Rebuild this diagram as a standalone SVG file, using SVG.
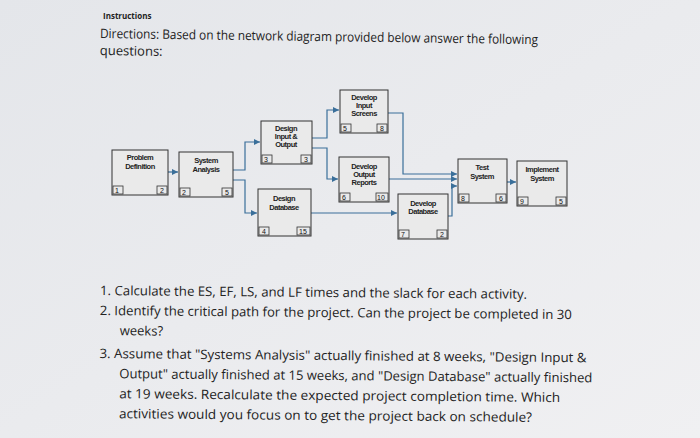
<svg xmlns="http://www.w3.org/2000/svg" width="700" height="438" viewBox="0 0 700 438">
<defs>
<linearGradient id="bg" x1="0" y1="0" x2="1" y2="1"><stop offset="0" stop-color="#e4e6ea"/><stop offset="1" stop-color="#f0f0f2"/></linearGradient>
<marker id="ar" markerWidth="6" markerHeight="6" refX="5" refY="3" orient="auto"><path d="M0,0.5 L5,3 L0,5.5z" fill="#3a6f9a"/></marker>
</defs>
<style>
.box{fill:#eaeaea;stroke:#333;stroke-width:1}
.nb{fill:none;stroke:#333;stroke-width:0.8}
.t{font-family:"Liberation Sans",Arial,sans-serif;font-size:7.5px;font-weight:bold;fill:#222;text-anchor:middle;letter-spacing:-0.5px}
.n{font-family:"Liberation Sans",Arial,sans-serif;font-size:7px;fill:#111}
.c path{fill:none;stroke:#3a6f9a;stroke-width:1.2;marker-end:url(#ar)}
.q{font-family:"Open Sans","Liberation Sans",sans-serif;font-size:13px;fill:#222}
</style>
<rect width="700" height="438" fill="url(#bg)"/>
<text x="103" y="19" font-family="Open Sans,Liberation Sans,sans-serif" font-size="8" font-weight="bold" fill="#222">Instructions</text>
<g transform="rotate(0.8 100 40)">
<text x="100" y="38" class="q" font-size="12" textLength="438" lengthAdjust="spacingAndGlyphs">Directions: Based on the network diagram provided below answer the following</text>
<text x="100" y="55" class="q" font-size="12">questions:</text>
</g>
<g class="c">
<path d="M168,172 H178"/>
<path d="M233,170 H245 V142 H260"/>
<path d="M233,180 H245 V213 H257"/>
<path d="M312,138 H327 V110 H339"/>
<path d="M312,148 H327 V179 H338"/>
<path d="M388,113 H403 V174 H457"/>
<path d="M389,179 H457"/>
<path d="M311,213 H397"/>
<path d="M448,216 H452 V186 H457"/>
<path d="M507,182 H516"/>
</g>
<g id="pd"><rect class="box" x="112" y="150" width="56" height="45"/><text class="t" x="140" y="160">Problem</text><text class="t" x="140" y="169">Definition</text><rect class="nb" x="113" y="186" width="10" height="8"/><text class="n" x="115" y="193">1</text><rect class="nb" x="157" y="186" width="10" height="8"/><text class="n" x="160" y="193">2</text></g>
<g id="sa"><rect class="box" x="179" y="152" width="54" height="45"/><text class="t" x="206" y="163">System</text><text class="t" x="206" y="172">Analysis</text><rect class="nb" x="180" y="188" width="10" height="8"/><text class="n" x="182" y="195">2</text><rect class="nb" x="222" y="188" width="10" height="8"/><text class="n" x="225" y="195">5</text></g>
<g id="dio"><rect class="box" x="261" y="121" width="51" height="43"/><text class="t" x="286" y="131">Design</text><text class="t" x="286" y="139">Input &amp;</text><text class="t" x="286" y="147">Output</text><rect class="nb" x="262" y="155" width="10" height="8"/><text class="n" x="264" y="162">3</text><rect class="nb" x="301" y="155" width="10" height="8"/><text class="n" x="304" y="162">3</text></g>
<g id="dd"><rect class="box" x="258" y="189" width="53" height="47"/><text class="t" x="284" y="201">Design</text><text class="t" x="284" y="210">Database</text><rect class="nb" x="259" y="227" width="10" height="8"/><text class="n" x="262" y="234">4</text><rect class="nb" x="297" y="227" width="13" height="8"/><text class="n" x="299" y="234">15</text></g>
<g id="dis"><rect class="box" x="340" y="90" width="48" height="43"/><text class="t" x="364" y="100">Develop</text><text class="t" x="364" y="108">Input</text><text class="t" x="364" y="116">Screens</text><rect class="nb" x="341" y="124" width="10" height="8"/><text class="n" x="343" y="131">5</text><rect class="nb" x="377" y="124" width="10" height="8"/><text class="n" x="380" y="131">8</text></g>
<g id="dor"><rect class="box" x="339" y="157" width="50" height="45"/><text class="t" x="364" y="169">Develop</text><text class="t" x="364" y="177">Output</text><text class="t" x="364" y="185">Reports</text><rect class="nb" x="340" y="193" width="10" height="8"/><text class="n" x="342" y="200">6</text><rect class="nb" x="376" y="193" width="12" height="8"/><text class="n" x="377" y="200">10</text></g>
<g id="ddb"><rect class="box" x="398" y="194" width="50" height="45"/><text class="t" x="423" y="206">Develop</text><text class="t" x="423" y="214">Database</text><rect class="nb" x="399" y="230" width="10" height="8"/><text class="n" x="401" y="237">7</text><rect class="nb" x="437" y="230" width="10" height="8"/><text class="n" x="440" y="237">2</text></g>
<g id="ts"><rect class="box" x="458" y="159" width="49" height="44"/><text class="t" x="482" y="170">Test</text><text class="t" x="482" y="179">System</text><rect class="nb" x="459" y="194" width="10" height="8"/><text class="n" x="461" y="201">8</text><rect class="nb" x="496" y="194" width="10" height="8"/><text class="n" x="499" y="201">6</text></g>
<g id="is"><rect class="box" x="517" y="161" width="50" height="45"/><text class="t" x="542" y="172">Implement</text><text class="t" x="542" y="181">System</text><rect class="nb" x="518" y="197" width="10" height="8"/><text class="n" x="520" y="204">9</text><rect class="nb" x="556" y="197" width="10" height="8"/><text class="n" x="559" y="204">5</text></g>
<g transform="rotate(0.5 100 300)">
<text class="q" x="100" y="295" textLength="427" lengthAdjust="spacingAndGlyphs">1. Calculate the ES, EF, LS, and LF times and the slack for each activity.</text>
<text class="q" x="100" y="315" textLength="472" lengthAdjust="spacingAndGlyphs">2. Identify the critical path for the project. Can the project be completed in 30</text>
<text class="q" x="120" y="335">weeks?</text>
<text class="q" x="100" y="358" textLength="487" lengthAdjust="spacingAndGlyphs">3. Assume that "Systems Analysis" actually finished at 8 weeks, "Design Input &amp;</text>
<text class="q" x="120" y="378" textLength="473" lengthAdjust="spacingAndGlyphs">Output" actually finished at 15 weeks, and "Design Database" actually finished</text>
<text class="q" x="120" y="398" textLength="441" lengthAdjust="spacingAndGlyphs">at 19 weeks. Recalculate the expected project completion time. Which</text>
<text class="q" x="120" y="418" textLength="413" lengthAdjust="spacingAndGlyphs">activities would you focus on to get the project back on schedule?</text>
</g>
</svg>
